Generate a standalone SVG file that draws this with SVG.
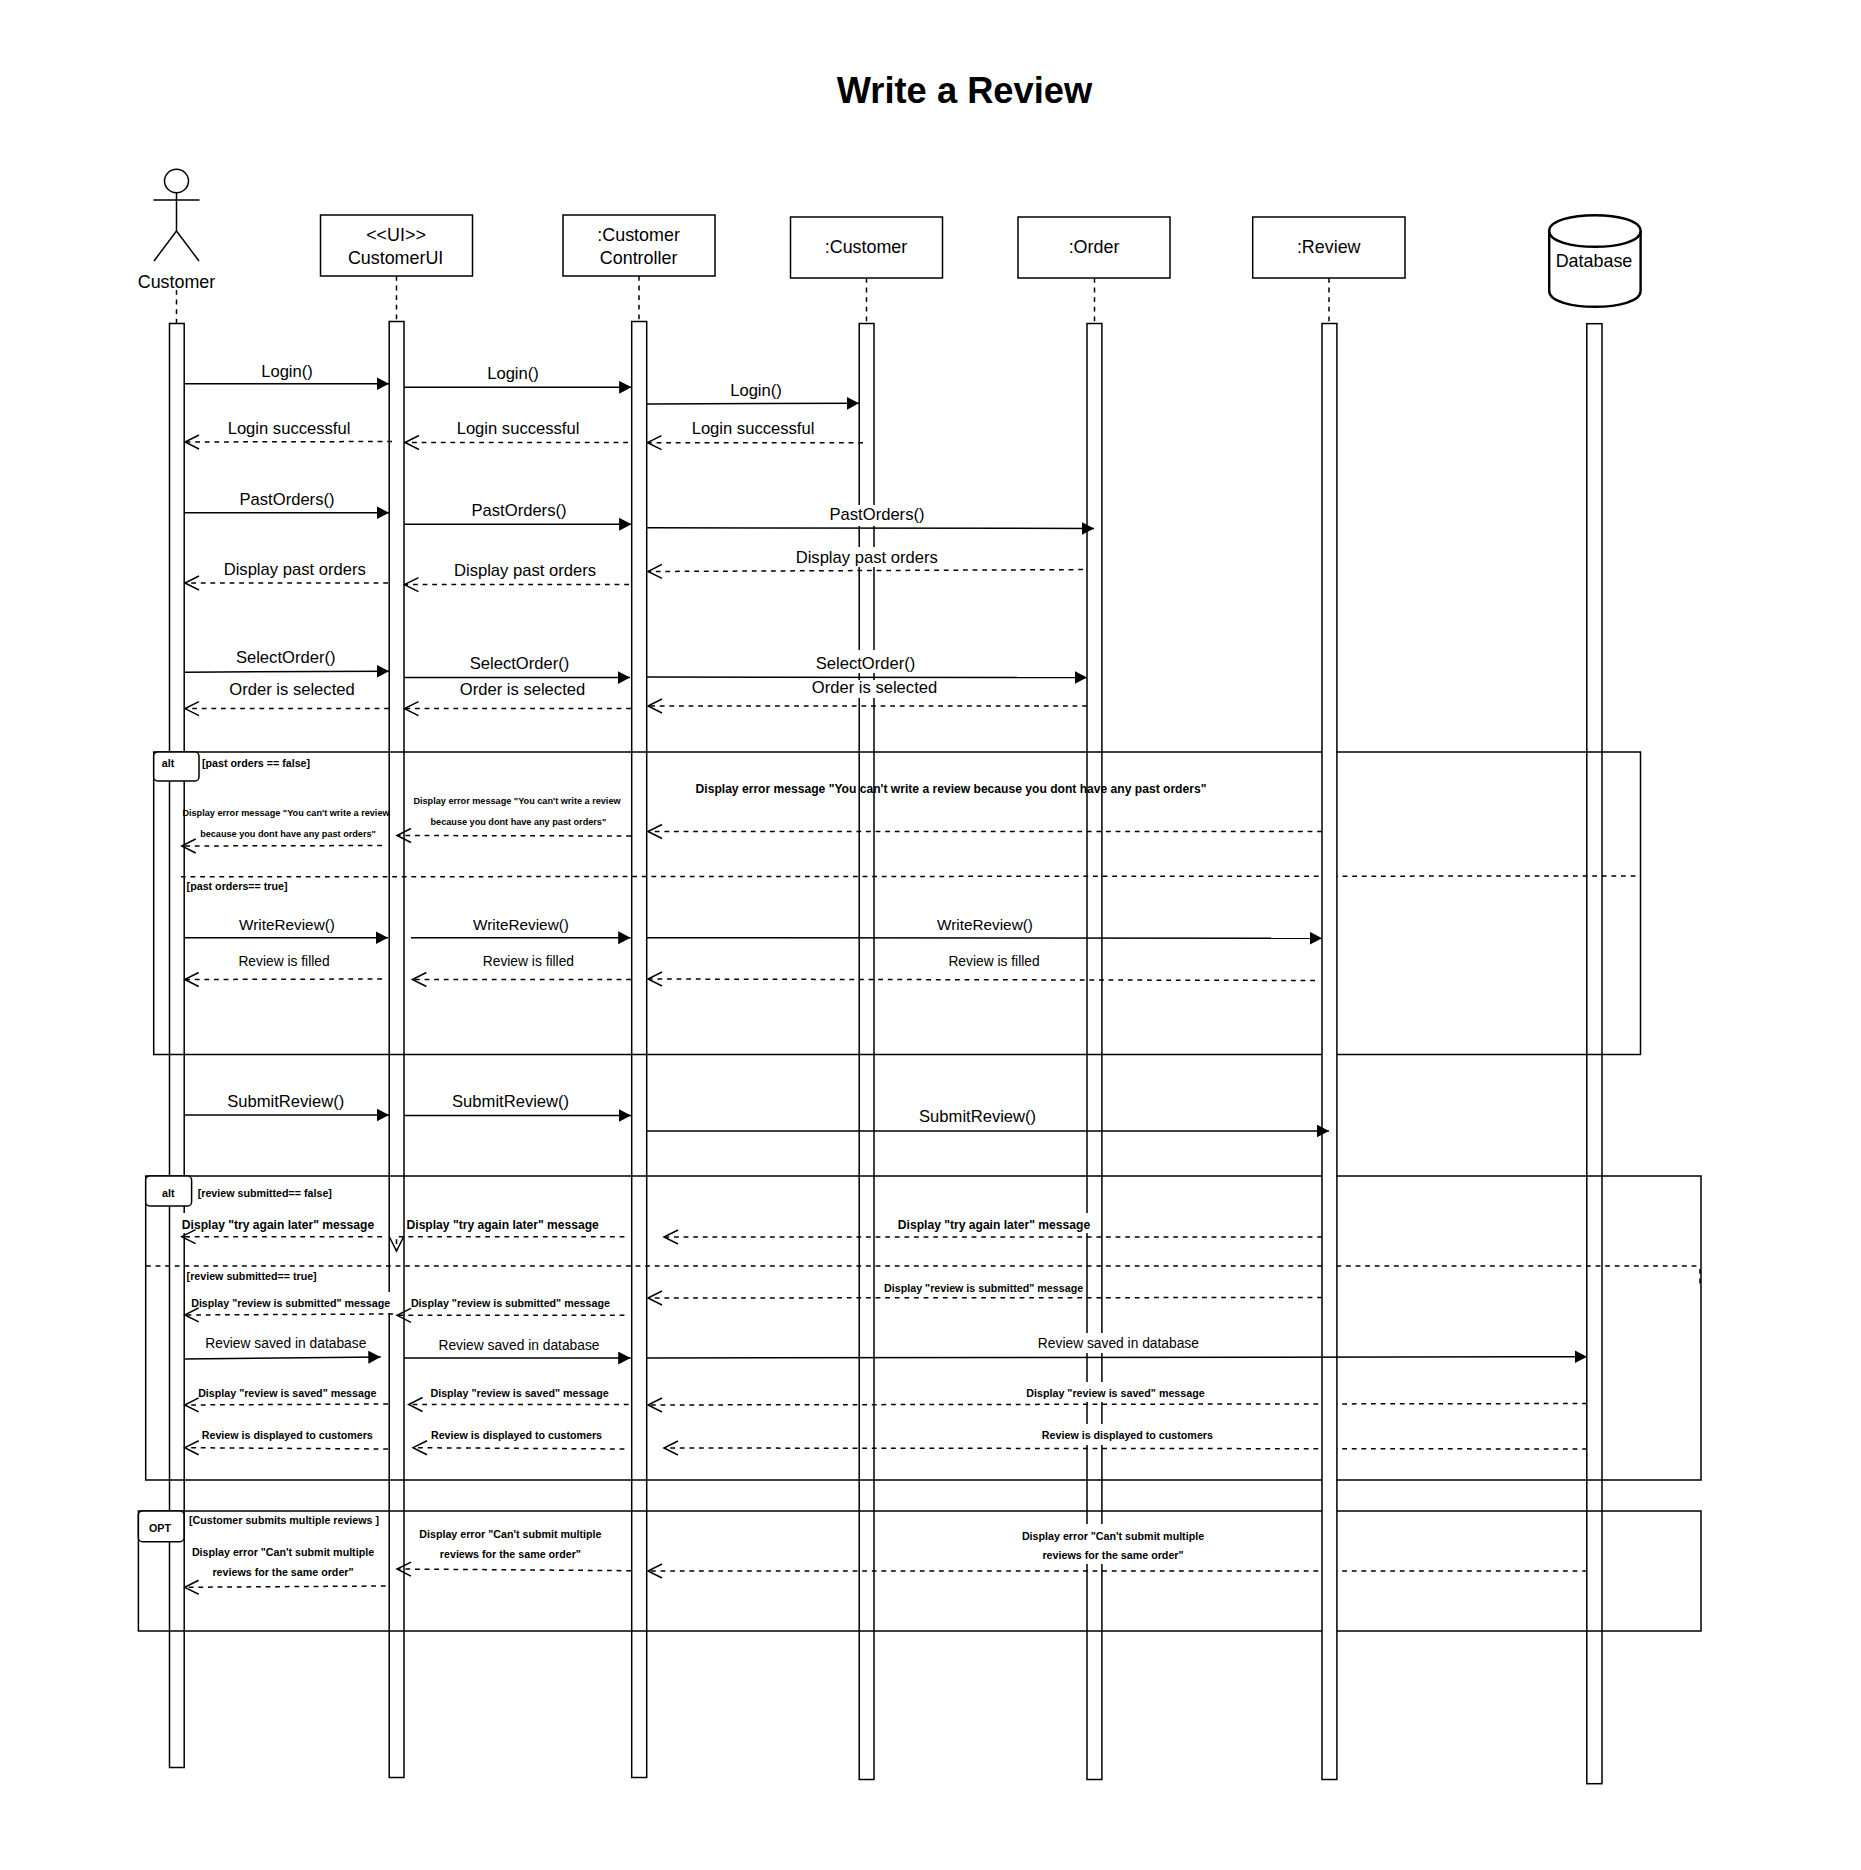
<svg xmlns="http://www.w3.org/2000/svg" width="1861" height="1870" viewBox="0 0 1861 1870">
<style>
text{font-family:"Liberation Sans",Arial,sans-serif;fill:#000;text-anchor:middle}
.title{font-size:36.3px;font-weight:bold}
.h{font-size:17.9px}
.m{font-size:16.6px}
.w{font-size:15.3px}
.s{font-size:13.8px}
.b12{font-size:12.1px;font-weight:bold}
.b11{font-size:10.7px;font-weight:bold}
.b9{font-size:9.15px;font-weight:bold}
.l{text-anchor:start}
.box,.bar{fill:#fff;stroke:#000;stroke-width:1.5}
.life{fill:none;stroke:#000;stroke-width:1.5;stroke-dasharray:4.8 4.8}
.frame{fill:none;stroke:#000;stroke-width:1.5}
.tag{fill:#fff;stroke:#000;stroke-width:1.5}
.sep{fill:none;stroke:#000;stroke-width:1.5;stroke-dasharray:4.8 4.8}
.call{fill:none;stroke:#000;stroke-width:1.5;marker-end:url(#solid)}
.ret{fill:none;stroke:#000;stroke-width:1.5;stroke-dasharray:4.8 4.8;marker-end:url(#open)}
.actor{fill:none;stroke:#000;stroke-width:1.5}
.db{fill:#fff;stroke:#000;stroke-width:2.4}
.mask{fill:#fff;stroke:none}
</style>
<defs>
<marker id="solid" markerUnits="userSpaceOnUse" markerWidth="14" markerHeight="14" refX="12.4" refY="6.5" orient="auto"><path d="M0,0 L12.4,6.5 L0,13 Z" fill="#000"/></marker>
<marker id="open" markerUnits="userSpaceOnUse" markerWidth="17" markerHeight="18" refX="15" refY="8.5" orient="auto"><path d="M1,1.5 L15,8.5 L1,15.5" fill="none" stroke="#000" stroke-width="1.5"/></marker>
</defs>
<rect width="1861" height="1870" fill="#fff"/>
<text class="title" x="964.5" y="103">Write a Review</text>

<g id="n-actor">
<ellipse class="actor" cx="176.5" cy="181" rx="12" ry="11.7"/>
<path class="actor" d="M176.5,193V231M153.5,200H199.5M176.5,231L154,261M176.5,231L199,261"/>
<text class="h" x="176.5" y="288">Customer</text>
<path class="life" d="M176.5,290V323"/>
<rect class="bar" x="169.5" y="323.5" width="14.7" height="1444"/>
</g>
<g id="n-ui">
<rect class="box" x="320.5" y="215" width="152" height="61"/>
<text class="h" x="396" y="241">&lt;&lt;UI&gt;&gt;</text>
<text class="h" x="395.6" y="264">CustomerUI</text>
<path class="life" d="M396.5,276V321"/>
<rect class="bar" x="389.2" y="321.5" width="14.8" height="1456"/>
</g>
<g id="n-controller">
<rect class="box" x="563" y="215" width="152" height="61"/>
<text class="h" x="638.6" y="241">:Customer</text>
<text class="h" x="638.6" y="264">Controller</text>
<path class="life" d="M639,276V321"/>
<rect class="bar" x="631.7" y="321.5" width="15" height="1456"/>
</g>
<g id="n-customer">
<rect class="box" x="790.5" y="217" width="152" height="61"/>
<text class="h" x="866" y="253">:Customer</text>
<path class="life" d="M866.5,278V323"/>
<rect class="bar" x="859.2" y="323.5" width="14.8" height="1456"/>
</g>
<g id="n-order">
<rect class="box" x="1018" y="217" width="152" height="61"/>
<text class="h" x="1094" y="253">:Order</text>
<path class="life" d="M1094.5,278V323"/>
<rect class="bar" x="1087" y="323.5" width="14.9" height="1456"/>
</g>
<g id="n-reviewbox">
<rect class="box" x="1252.7" y="217" width="152.3" height="61"/>
<text class="h" x="1328.7" y="253">:Review</text>
<path class="life" d="M1329,278V323"/>
</g>
<g id="n-database">
<path class="db" d="M1549.2,231 C1549.2,210 1640.6,210 1640.6,231 V291 C1640.6,312 1549.2,312 1549.2,291 Z"/>
<path class="db" d="M1549.2,231 C1549.2,252 1640.6,252 1640.6,231" fill="none"/>
<text class="h" x="1594" y="267">Database</text>
<rect class="bar" x="1586.8" y="323.7" width="15.2" height="1460"/>
</g>

<g id="frame-alt1">
<rect class="frame" x="153.7" y="752" width="1486.8" height="302.5"/>
<rect class="tag" x="153.7" y="752" width="45.3" height="29" rx="4"/>
<text class="b11" x="168" y="767">alt</text>
<text class="b11 l" x="202" y="767">[past orders == false]</text>
<path class="sep" d="M181,876.8L1640,876"/>
<text class="b11 l" x="186.6" y="890">[past orders== true]</text>
</g>
<g id="frame-alt2">
<rect class="frame" x="145.7" y="1176" width="1555.3" height="304"/>
<rect class="tag" x="145.7" y="1176" width="45.9" height="30" rx="4"/>
<text class="b11" x="168.3" y="1197">alt</text>
<text class="b11 l" x="197.7" y="1197">[review submitted== false]</text>
<path class="sep" d="M146,1266H1700M1700,1269V1287"/>
<text class="b11 l" x="186.6" y="1280">[review submitted== true]</text>
</g>
<g id="frame-opt">
<rect class="frame" x="138.4" y="1511" width="1562.6" height="120"/>
<rect class="tag" x="138.4" y="1511" width="45.6" height="30.7" rx="4"/>
<text class="b11" x="160" y="1532">OPT</text>
<text class="b11 l" x="189" y="1524">[Customer submits multiple reviews ]</text>
</g>

<g id="label-backgrounds">
<rect class="mask" x="831" y="505" width="96" height="21"/>
<rect class="mask" x="795" y="547" width="143" height="20"/>
<rect class="mask" x="814" y="650" width="102" height="23"/>
<rect class="mask" x="810" y="680" width="130" height="18"/>
<rect class="mask" x="182" y="1213" width="194" height="20"/>
<rect class="mask" x="190" y="1292" width="200" height="21"/>
<rect class="mask" x="897" y="1213" width="193" height="20"/>
<rect class="mask" x="1039" y="1333" width="160" height="20"/>
<rect class="mask" x="1027" y="1382" width="177" height="20"/>
<rect class="mask" x="1042" y="1424" width="171" height="21"/>
<rect class="mask" x="1022" y="1524" width="181" height="40"/>
</g>

<g id="connectors">
<path class="call" d="M184,383.7H389"/>
<path class="call" d="M404,387.3H631.5"/>
<path class="call" d="M647,404L859,403.3"/>
<path class="ret" d="M392,441.5L185,442"/>
<path class="ret" d="M628,442.5H405"/>
<path class="ret" d="M863,442.7H647.5"/>
<path class="call" d="M184,512.7H389"/>
<path class="call" d="M404,524.3H631.5"/>
<path class="call" d="M647,527.7L1094,528.5"/>
<path class="ret" d="M388,583H185"/>
<path class="ret" d="M629,584.6L404.5,584.6"/>
<path class="ret" d="M1083,569.6L648,571.5"/>
<path class="call" d="M184,672.2L389,671.2"/>
<path class="call" d="M404,677.6H630"/>
<path class="call" d="M647,677L1087,677.6"/>
<path class="ret" d="M389,708.6H185"/>
<path class="ret" d="M631,708.6H404.5"/>
<path class="ret" d="M1087,706H648"/>
<path class="ret" d="M382,845.5L181.7,846"/>
<path class="ret" d="M631,836L397,835.5"/>
<path class="ret" d="M1322,831.5H648"/>
<path class="call" d="M184,937.7H388"/>
<path class="call" d="M411,937.7H630.6"/>
<path class="call" d="M647,937.7L1322,938.2"/>
<path class="ret" d="M382,979L184.7,979.5"/>
<path class="ret" d="M631,979.5H412.4"/>
<path class="ret" d="M1315,980.5L648,979"/>
<path class="call" d="M184,1115H389"/>
<path class="call" d="M404,1115.5H631"/>
<path class="ret" d="M382,1236.7H181.6"/>
<path class="ret" d="M624.4,1236.7H396.5V1251"/>
<path class="ret" d="M1322,1237H664"/>
<path class="ret" d="M393,1314L184.7,1315"/>
<path class="ret" d="M624.4,1315.3H397"/>
<path class="ret" d="M1322,1297.5L648,1298"/>
<path class="call" d="M184,1359L380.7,1357"/>
<path class="call" d="M404,1358H630.6"/>
<path class="ret" d="M388,1404L184.7,1405"/>
<path class="ret" d="M628.6,1404.5H408.6"/>
<path class="ret" d="M1587,1403.5L648,1405"/>
<path class="ret" d="M388,1449L184.7,1447.7"/>
<path class="ret" d="M624.4,1449L413,1447.7"/>
<path class="ret" d="M1587,1449L664,1448"/>
<path class="ret" d="M385.6,1586L184.7,1587.3"/>
<path class="ret" d="M631,1570.7L397,1569"/>
<path class="ret" d="M1587,1571H648"/>
</g>

<g id="n-review">
<rect class="bar" x="1322" y="323.5" width="14.9" height="1456"/>
</g>

<g id="connectors-over">
<path class="call" d="M647,1131H1329"/>
<path class="call" d="M647,1358L1587,1356.7"/>
</g>

<g id="labels">
<text class="m" x="287" y="376.5">Login()</text>
<text class="m" x="513" y="379">Login()</text>
<text class="m" x="756" y="396">Login()</text>
<text class="m" x="289" y="434">Login successful</text>
<text class="m" x="518" y="434">Login successful</text>
<text class="m" x="753" y="434">Login successful</text>
<text class="m" x="287" y="505">PastOrders()</text>
<text class="m" x="519" y="516">PastOrders()</text>
<text class="m" x="877" y="520">PastOrders()</text>
<text class="m" x="294.7" y="575">Display past orders</text>
<text class="m" x="525" y="576">Display past orders</text>
<text class="m" x="866.7" y="563">Display past orders</text>
<text class="m" x="285.7" y="663">SelectOrder()</text>
<text class="m" x="519.5" y="669">SelectOrder()</text>
<text class="m" x="865.5" y="669">SelectOrder()</text>
<text class="m" x="292" y="694.5">Order is selected</text>
<text class="m" x="522.5" y="694.5">Order is selected</text>
<text class="m" x="874.5" y="693">Order is selected</text>
<text class="b9" x="286" y="816">Display error message "You can't write a review</text>
<text class="b9" x="288" y="837">because you dont have any past orders"</text>
<text class="b9" x="517" y="804">Display error message "You can't write a review</text>
<text class="b9" x="518.4" y="825">because you dont have any past orders"</text>
<text class="b12" x="951" y="793">Display error message "You can't write a review because you dont have any past orders"</text>
<text class="w" x="287" y="930">WriteReview()</text>
<text class="w" x="521" y="930">WriteReview()</text>
<text class="w" x="985" y="930">WriteReview()</text>
<text class="s" x="284" y="966">Review is filled</text>
<text class="s" x="528.4" y="966">Review is filled</text>
<text class="s" x="994" y="966">Review is filled</text>
<text class="m" x="285.7" y="1107">SubmitReview()</text>
<text class="m" x="510.6" y="1107">SubmitReview()</text>
<text class="m" x="977.6" y="1122">SubmitReview()</text>
<text class="b12" x="278" y="1229">Display "try again later" message</text>
<text class="b12" x="502.7" y="1229">Display "try again later" message</text>
<text class="b12" x="994" y="1229">Display "try again later" message</text>
<text class="b11" x="290.7" y="1307">Display "review is submitted" message</text>
<text class="b11" x="510.4" y="1307">Display "review is submitted" message</text>
<text class="b11" x="983.6" y="1292">Display "review is submitted" message</text>
<text class="s" x="285.8" y="1348">Review saved in database</text>
<text class="s" x="519" y="1349.5">Review saved in database</text>
<text class="s" x="1118.4" y="1348">Review saved in database</text>
<text class="b11" x="287.3" y="1397">Display "review is saved" message</text>
<text class="b11" x="519.6" y="1397">Display "review is saved" message</text>
<text class="b11" x="1115.5" y="1397">Display "review is saved" message</text>
<text class="b11" x="287.3" y="1439">Review is displayed to customers</text>
<text class="b11" x="516.5" y="1439">Review is displayed to customers</text>
<text class="b11" x="1127.4" y="1439">Review is displayed to customers</text>
<text class="b11" x="283" y="1556">Display error "Can't submit multiple</text>
<text class="b11" x="283" y="1576">reviews for the same order"</text>
<text class="b11" x="510.4" y="1538">Display error "Can't submit multiple</text>
<text class="b11" x="510.4" y="1558">reviews for the same order"</text>
<text class="b11" x="1113" y="1540">Display error "Can't submit multiple</text>
<text class="b11" x="1113" y="1559">reviews for the same order"</text>
</g>
</svg>
